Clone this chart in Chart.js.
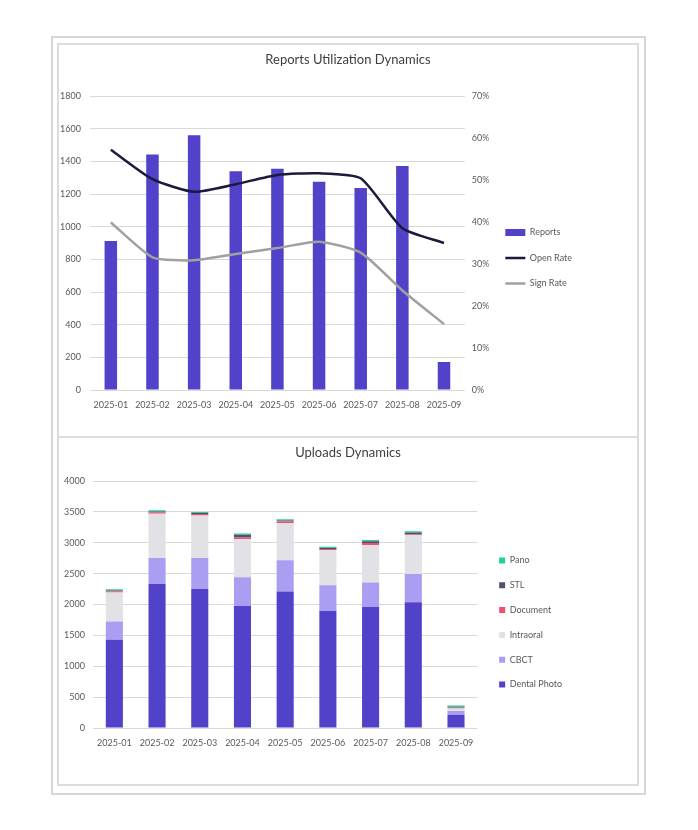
<!DOCTYPE html>
<html>
<head>
<meta charset="utf-8">
<script src="https://cdn.jsdelivr.net/npm/chart.js@4.4.0/dist/chart.umd.min.js"></script>
<style>
  body { margin: 0; background: #fff; }
  .frame { position: absolute; left: 51px; top: 36px; width: 595px; height: 759px; border: 2px solid #d6d6d6; box-sizing: border-box; }
  .panel { position: absolute; left: 57px; width: 582px; border: 2px solid #dcdcdc; box-sizing: border-box; background: #fff; }
  #topPanel { top: 43px; height: 395px; }
  #bottomPanel { top: 436px; height: 350px; }
  canvas { display: block; }
</style>
</head>
<body>
<div class="frame"></div>
<div class="panel" id="topPanel"><canvas id="reportsChart" width="578" height="391"></canvas></div>
<div class="panel" id="bottomPanel"><canvas id="uploadsChart" width="578" height="346"></canvas></div>

<script>
// ========== Data ==========
const months = ['2025-01', '2025-02', '2025-03', '2025-04', '2025-05', '2025-06', '2025-07', '2025-08', '2025-09'];

const reports = [913, 1442, 1560, 1340, 1355, 1275, 1237, 1371, 171];
const openRate = [0.572, 0.502, 0.472, 0.490, 0.512, 0.516, 0.504, 0.385, 0.350];
const signRate = [0.399, 0.316, 0.309, 0.324, 0.338, 0.353, 0.327, 0.237, 0.157];

const dentalPhoto = [1430, 2330, 2250, 1975, 2210, 1895, 1960, 2035, 215];
const cbct = [295, 425, 505, 465, 505, 415, 395, 460, 60];
const intraoral = [470, 715, 685, 620, 600, 570, 610, 630, 40];
const documentUploads = [20, 20, 25, 25, 30, 20, 30, 8, 15];
const stl = [10, 17, 15, 45, 15, 17, 28, 35, 10];
const pano = [20, 20, 20, 20, 20, 20, 20, 20, 25];

const reportsTicks = [0, 200, 400, 600, 800, 1000, 1200, 1400, 1600, 1800];
const rateTicks = [0, 0.1, 0.2, 0.3, 0.4, 0.5, 0.6, 0.7];
const uploadsTicks = [0, 500, 1000, 1500, 2000, 2500, 3000, 3500, 4000];

// ========== Shared look ==========
const FONT = 'Lato, "Open Sans", sans-serif';
const TICK_COLOR = '#595959';
const GRID_COLOR = '#d9d9d9';
Chart.defaults.font.family = FONT;
Chart.defaults.font.size = 9;
Chart.defaults.color = TICK_COLOR;

function fixed(prop, size) {
  return scale => { scale[prop] = size; };
}

// hidden axis used only to reserve room (weight > legend puts it outside the legend)
function spacer(width, weight) {
  return {
    position: 'right',
    display: false,
    weight: weight,
    afterFit: fixed('width', width)
  };
}

// ========== 1. Reports Utilization Dynamics ==========
new Chart(document.getElementById('reportsChart'), {
  data: {
    labels: months,
    datasets: [
      {
        type: 'bar',
        label: 'Reports',
        data: reports,
        backgroundColor: '#5241c9',
        borderWidth: 0,
        barPercentage: 0.3,
        categoryPercentage: 1,
        pointStyle: 'rect',
        yAxisID: 'y',
        order: 2
      },
      {
        type: 'line',
        label: 'Open Rate',
        data: openRate,
        borderColor: '#1c1a3d',
        backgroundColor: '#1c1a3d',
        borderWidth: 2.5,
        tension: 0.2,
        pointRadius: 0,
        pointStyle: 'line',
        yAxisID: 'y1',
        order: 0
      },
      {
        type: 'line',
        label: 'Sign Rate',
        data: signRate,
        borderColor: '#a0a0a0',
        backgroundColor: '#a0a0a0',
        borderWidth: 2.5,
        tension: 0.2,
        pointRadius: 0,
        pointStyle: 'line',
        yAxisID: 'y1',
        order: 1
      }
    ]
  },
  options: {
    responsive: false,
    animation: false,
    layout: { padding: 0 },
    plugins: {
      title: {
        display: true,
        text: 'Reports Utilization Dynamics',
        color: '#404040',
        font: { size: 13, weight: 'normal' },
        padding: { top: 7, bottom: 28.4 }
      },
      legend: {
        position: 'right',
        title: { display: true, text: '', font: { size: 9 }, padding: { top: 24.2, bottom: 0 } },
        labels: {
          usePointStyle: true,
          pointStyleWidth: 20,
          boxHeight: 7,
          padding: 16.5,
          color: TICK_COLOR,
          font: { size: 9 },
          sort: (a, b) => a.datasetIndex - b.datasetIndex
        }
      },
      tooltip: { enabled: false }
    },
    scales: {
      x: {
        grid: { display: false, drawTicks: false },
        border: { display: false },
        ticks: { padding: 10, maxRotation: 0 },
        afterFit: fixed('height', 46)
      },
      y: {
        position: 'left',
        min: 0,
        max: 1800,
        afterBuildTicks: scale => { scale.ticks = reportsTicks.map(v => ({ value: v })); },
        ticks: { padding: 9, callback: v => String(v) },
        grid: { color: GRID_COLOR, drawTicks: false },
        border: { display: false },
        afterFit: fixed('width', 31)
      },
      y1: {
        position: 'right',
        min: 0,
        max: 0.7,
        afterBuildTicks: scale => { scale.ticks = rateTicks.map(v => ({ value: v })); },
        ticks: { padding: 7, callback: v => Math.round(v * 100) + '%' },
        grid: { display: false, drawTicks: false },
        border: { display: false },
        afterFit: fixed('width', 24)
      },
      edge: spacer(55, 2000)
    }
  }
});

// ========== 2. Uploads Dynamics ==========
const uploadSeries = [
  { label: 'Dental Photo', data: dentalPhoto, color: '#5241c9' },
  { label: 'CBCT', data: cbct, color: '#a99ef2' },
  { label: 'Intraoral', data: intraoral, color: '#e1e1e6' },
  { label: 'Document', data: documentUploads, color: '#f0506e' },
  { label: 'STL', data: stl, color: '#52506e' },
  { label: 'Pano', data: pano, color: '#1fd1a0' }
];

new Chart(document.getElementById('uploadsChart'), {
  type: 'bar',
  data: {
    labels: months,
    datasets: uploadSeries.map(s => ({
      label: s.label,
      data: s.data,
      backgroundColor: s.color,
      borderWidth: 0,
      barPercentage: 0.4,
      categoryPercentage: 1
    }))
  },
  options: {
    responsive: false,
    animation: false,
    layout: { padding: 0 },
    plugins: {
      title: {
        display: true,
        text: 'Uploads Dynamics',
        color: '#404040',
        font: { size: 13, weight: 'normal' },
        padding: { top: 7, bottom: 20.4 }
      },
      legend: {
        position: 'right',
        reverse: true,
        title: { display: true, text: '', font: { size: 9 }, padding: { top: 12.2, bottom: 0 } },
        labels: {
          boxWidth: 6,
          boxHeight: 6,
          padding: 15.8,
          color: TICK_COLOR,
          font: { size: 9 }
        }
      },
      tooltip: { enabled: false }
    },
    scales: {
      x: {
        stacked: true,
        grid: { display: false, drawTicks: false },
        border: { display: false },
        ticks: { padding: 10, maxRotation: 0 },
        afterFit: fixed('height', 56)
      },
      y: {
        stacked: true,
        min: 0,
        max: 4000,
        afterBuildTicks: scale => { scale.ticks = uploadsTicks.map(v => ({ value: v })); },
        ticks: { padding: 8, callback: v => String(v) },
        grid: { color: GRID_COLOR, drawTicks: false },
        border: { display: false },
        afterFit: fixed('width', 34)
      },
      gap: spacer(6, 0),
      edge: spacer(65, 2000)
    }
  }
});
</script>
</body>
</html>
